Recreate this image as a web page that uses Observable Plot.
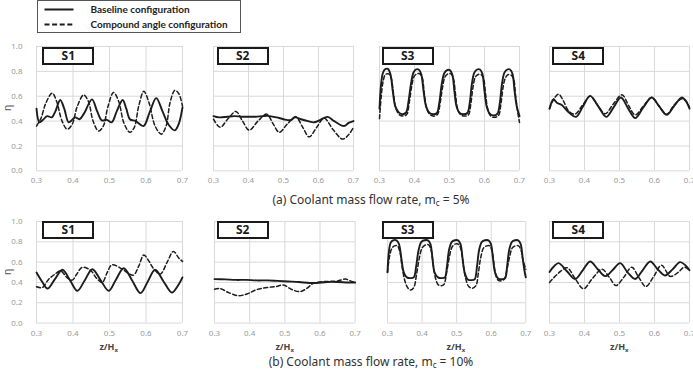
<!DOCTYPE html>
<html>
<head>
<meta charset="utf-8">
<script src="https://cdn.jsdelivr.net/npm/d3@7"></script>
<script src="https://cdn.jsdelivr.net/npm/@observablehq/plot@0.6"></script>
<style>
  html, body { margin: 0; padding: 0; background: #fff; }
  #root { position: relative; width: 693px; height: 373px; overflow: hidden; font-family: "Noto Sans", "Open Sans", sans-serif; }
  .tag { position: absolute; width: 48px; height: 14px; border: 2px solid #1a1a1a; background: #fff;
         font: bold 12px "Noto Sans", sans-serif; line-height: 14px; text-align: center; color: #1a1a1a; }
  .cap { position: absolute; width: 320px; text-align: center; font: 12px "Noto Sans", sans-serif; line-height: 14px; color: #333; white-space: nowrap; }
  .cap sub { font-size: 8px; line-height: 0; vertical-align: -2px; }
  .xl { position: absolute; width: 60px; text-align: center; font: bold 9px "Noto Sans", sans-serif; line-height: 11px; color: #444; }
  .xl sub { font-size: 6px; line-height: 0; vertical-align: -2px; }
  .eta { position: absolute; font: 11px "Noto Sans", sans-serif; color: #555; transform: rotate(-90deg); line-height: 12px; }
  .legt { position: absolute; left: 53px; font: bold 10px Lato, "Noto Sans", sans-serif; color: #222; line-height: 14px; white-space: nowrap; }
</style>
</head>
<body>
<div id="root"></div>
<script>
// ---------- tick values ----------
const xTicks = [0.3, 0.4, 0.5, 0.6, 0.7];
const yTicks = [0, 0.2, 0.4, 0.6, 0.8, 1.0];
const panelNames = ["S1", "S2", "S3", "S4"];
const seriesNames = ["Baseline configuration", "Compound angle configuration"];
const captions = ["(a) Coolant mass flow rate, m<sub>c</sub> = 5%", "(b) Coolant mass flow rate, m<sub>c</sub> = 10%"];

// ---------- (a) m_c = 5% ----------
const a1Base = [[0.300,0.50],[0.308,0.39],[0.318,0.41],[0.329,0.44],[0.342,0.43],[0.352,0.48],[0.365,0.57],[0.376,0.50],[0.388,0.39],[0.398,0.41],[0.406,0.43],[0.418,0.415],[0.430,0.46],[0.452,0.575],[0.466,0.48],[0.479,0.405],[0.493,0.41],[0.506,0.39],[0.520,0.48],[0.536,0.57],[0.546,0.50],[0.556,0.415],[0.572,0.40],[0.593,0.36],[0.610,0.47],[0.628,0.585],[0.645,0.48],[0.662,0.37],[0.679,0.325],[0.690,0.38],[0.700,0.51]];
const a1Comp = [[0.300,0.36],[0.312,0.42],[0.325,0.54],[0.343,0.625],[0.355,0.56],[0.370,0.40],[0.384,0.335],[0.397,0.37],[0.412,0.52],[0.429,0.61],[0.442,0.56],[0.455,0.40],[0.470,0.32],[0.483,0.36],[0.496,0.52],[0.511,0.63],[0.525,0.56],[0.540,0.38],[0.556,0.31],[0.568,0.35],[0.580,0.52],[0.594,0.64],[0.608,0.55],[0.625,0.36],[0.642,0.295],[0.655,0.36],[0.666,0.55],[0.679,0.648],[0.690,0.62],[0.700,0.52]];
const a2Base = [[0.300,0.44],[0.316,0.43],[0.340,0.435],[0.360,0.44],[0.380,0.435],[0.400,0.435],[0.420,0.435],[0.440,0.44],[0.455,0.442],[0.480,0.43],[0.500,0.415],[0.520,0.407],[0.533,0.43],[0.550,0.415],[0.570,0.40],[0.587,0.39],[0.605,0.41],[0.626,0.434],[0.645,0.40],[0.673,0.36],[0.686,0.385],[0.700,0.40]];
const a2Comp = [[0.300,0.415],[0.319,0.35],[0.342,0.42],[0.364,0.477],[0.383,0.40],[0.402,0.327],[0.427,0.40],[0.452,0.456],[0.470,0.38],[0.488,0.31],[0.512,0.38],[0.535,0.434],[0.555,0.35],[0.573,0.273],[0.595,0.35],[0.616,0.424],[0.642,0.33],[0.669,0.255],[0.686,0.29],[0.700,0.35]];
const a3Base = [[0.300,0.50],[0.304,0.68],[0.309,0.78],[0.315,0.815],[0.324,0.82],[0.331,0.78],[0.338,0.64],[0.345,0.52],[0.355,0.47],[0.366,0.455],[0.376,0.47],[0.383,0.56],[0.390,0.70],[0.397,0.79],[0.404,0.815],[0.412,0.815],[0.419,0.78],[0.426,0.64],[0.433,0.52],[0.443,0.465],[0.454,0.455],[0.464,0.465],[0.471,0.55],[0.478,0.70],[0.485,0.785],[0.493,0.81],[0.501,0.81],[0.508,0.775],[0.514,0.64],[0.520,0.52],[0.529,0.465],[0.540,0.455],[0.551,0.465],[0.558,0.55],[0.564,0.70],[0.571,0.79],[0.579,0.815],[0.587,0.815],[0.594,0.78],[0.600,0.64],[0.606,0.52],[0.615,0.46],[0.626,0.445],[0.637,0.46],[0.644,0.55],[0.650,0.70],[0.657,0.79],[0.665,0.815],[0.673,0.815],[0.680,0.78],[0.686,0.64],[0.692,0.52],[0.700,0.44]];
const a3Comp = [[0.300,0.42],[0.305,0.60],[0.311,0.73],[0.317,0.775],[0.326,0.78],[0.333,0.75],[0.340,0.62],[0.347,0.50],[0.357,0.45],[0.368,0.44],[0.378,0.455],[0.385,0.55],[0.392,0.68],[0.399,0.76],[0.407,0.78],[0.415,0.78],[0.422,0.75],[0.428,0.62],[0.435,0.50],[0.445,0.45],[0.456,0.44],[0.466,0.455],[0.473,0.54],[0.480,0.67],[0.487,0.755],[0.496,0.78],[0.504,0.78],[0.511,0.745],[0.517,0.62],[0.523,0.50],[0.532,0.45],[0.543,0.44],[0.554,0.45],[0.561,0.54],[0.567,0.67],[0.574,0.755],[0.582,0.775],[0.590,0.775],[0.597,0.745],[0.603,0.62],[0.609,0.50],[0.618,0.44],[0.629,0.43],[0.640,0.445],[0.647,0.54],[0.653,0.67],[0.660,0.75],[0.668,0.775],[0.676,0.77],[0.683,0.74],[0.689,0.60],[0.695,0.47],[0.700,0.39]];
const a4Base = [[0.300,0.50],[0.311,0.575],[0.322,0.545],[0.335,0.53],[0.355,0.47],[0.376,0.434],[0.396,0.52],[0.416,0.603],[0.439,0.52],[0.462,0.434],[0.483,0.51],[0.504,0.59],[0.525,0.50],[0.545,0.424],[0.568,0.51],[0.592,0.59],[0.613,0.52],[0.635,0.45],[0.656,0.52],[0.678,0.59],[0.690,0.56],[0.700,0.50]];
const a4Comp = [[0.300,0.50],[0.313,0.58],[0.326,0.617],[0.340,0.56],[0.355,0.48],[0.373,0.456],[0.395,0.53],[0.416,0.60],[0.437,0.53],[0.459,0.459],[0.483,0.54],[0.507,0.611],[0.527,0.52],[0.545,0.45],[0.568,0.52],[0.592,0.59],[0.613,0.52],[0.635,0.455],[0.656,0.53],[0.678,0.58],[0.690,0.56],[0.700,0.51]];

// ---------- (b) m_c = 10% ----------
const b1Base = [[0.300,0.498],[0.315,0.41],[0.330,0.34],[0.350,0.43],[0.371,0.525],[0.392,0.42],[0.412,0.318],[0.432,0.42],[0.453,0.53],[0.476,0.42],[0.498,0.318],[0.518,0.43],[0.539,0.54],[0.562,0.42],[0.585,0.295],[0.605,0.41],[0.625,0.525],[0.648,0.41],[0.671,0.30],[0.686,0.36],[0.700,0.45]];
const b1Comp = [[0.300,0.357],[0.316,0.35],[0.333,0.43],[0.350,0.48],[0.366,0.515],[0.383,0.45],[0.398,0.423],[0.410,0.48],[0.425,0.548],[0.448,0.52],[0.465,0.44],[0.480,0.40],[0.494,0.50],[0.507,0.574],[0.535,0.53],[0.552,0.49],[0.566,0.472],[0.580,0.56],[0.594,0.67],[0.608,0.61],[0.621,0.535],[0.639,0.482],[0.658,0.60],[0.675,0.705],[0.690,0.64],[0.700,0.607]];
const b2Base = [[0.300,0.433],[0.330,0.43],[0.360,0.425],[0.390,0.425],[0.420,0.42],[0.450,0.42],[0.480,0.415],[0.510,0.41],[0.540,0.405],[0.570,0.395],[0.590,0.395],[0.620,0.405],[0.650,0.405],[0.680,0.40],[0.700,0.40]];
const b2Comp = [[0.300,0.334],[0.316,0.34],[0.340,0.30],[0.368,0.27],[0.395,0.29],[0.420,0.33],[0.449,0.35],[0.475,0.36],[0.496,0.374],[0.520,0.33],[0.543,0.31],[0.562,0.34],[0.580,0.39],[0.600,0.405],[0.625,0.41],[0.650,0.415],[0.672,0.433],[0.690,0.41],[0.700,0.40]];
const b3Base = [[0.300,0.50],[0.304,0.70],[0.309,0.79],[0.316,0.815],[0.326,0.815],[0.333,0.78],[0.340,0.64],[0.347,0.50],[0.356,0.45],[0.366,0.443],[0.376,0.45],[0.383,0.56],[0.390,0.72],[0.398,0.80],[0.407,0.815],[0.417,0.815],[0.424,0.78],[0.430,0.64],[0.436,0.50],[0.446,0.45],[0.456,0.443],[0.466,0.45],[0.472,0.56],[0.478,0.72],[0.486,0.80],[0.495,0.815],[0.504,0.815],[0.511,0.78],[0.517,0.64],[0.523,0.50],[0.532,0.43],[0.542,0.423],[0.552,0.43],[0.559,0.56],[0.565,0.72],[0.573,0.80],[0.582,0.815],[0.592,0.815],[0.599,0.78],[0.605,0.64],[0.611,0.50],[0.620,0.44],[0.630,0.433],[0.640,0.44],[0.646,0.56],[0.652,0.72],[0.660,0.80],[0.669,0.815],[0.678,0.815],[0.685,0.78],[0.691,0.64],[0.696,0.52],[0.700,0.45]];
const b3Comp = [[0.300,0.50],[0.305,0.64],[0.312,0.73],[0.320,0.76],[0.329,0.76],[0.336,0.70],[0.342,0.56],[0.350,0.42],[0.358,0.35],[0.367,0.325],[0.376,0.35],[0.384,0.48],[0.392,0.64],[0.400,0.74],[0.410,0.77],[0.419,0.77],[0.426,0.72],[0.432,0.58],[0.439,0.44],[0.446,0.38],[0.454,0.367],[0.463,0.38],[0.471,0.50],[0.479,0.65],[0.487,0.75],[0.497,0.78],[0.506,0.775],[0.513,0.72],[0.519,0.58],[0.526,0.44],[0.535,0.36],[0.546,0.344],[0.556,0.37],[0.563,0.50],[0.570,0.65],[0.578,0.74],[0.587,0.76],[0.596,0.76],[0.603,0.70],[0.608,0.58],[0.614,0.46],[0.621,0.42],[0.628,0.416],[0.637,0.43],[0.645,0.52],[0.653,0.65],[0.661,0.74],[0.670,0.76],[0.679,0.76],[0.686,0.72],[0.692,0.62],[0.700,0.53]];
const b4Base = [[0.300,0.503],[0.313,0.56],[0.326,0.59],[0.350,0.51],[0.373,0.434],[0.395,0.52],[0.416,0.607],[0.438,0.53],[0.459,0.462],[0.480,0.52],[0.502,0.59],[0.523,0.50],[0.545,0.434],[0.566,0.52],[0.588,0.607],[0.609,0.53],[0.630,0.469],[0.652,0.53],[0.673,0.60],[0.688,0.57],[0.700,0.52]];
const b4Comp = [[0.300,0.40],[0.325,0.49],[0.350,0.545],[0.373,0.44],[0.397,0.338],[0.423,0.44],[0.450,0.53],[0.471,0.45],[0.490,0.37],[0.512,0.45],[0.535,0.55],[0.555,0.45],[0.575,0.36],[0.598,0.46],[0.620,0.57],[0.645,0.46],[0.668,0.50],[0.685,0.55],[0.700,0.52]];

const rows = [
  {base: [a1Base, a2Base, a3Base, a4Base], comp: [a1Comp, a2Comp, a3Comp, a4Comp]},
  {base: [b1Base, b2Base, b3Base, b4Base], comp: [b1Comp, b2Comp, b3Comp, b4Comp]}
];

// ---------- layout (pixels) ----------
const rowBox = [{top: 45.7, bottom: 170}, {top: 220.7, bottom: 322.3}];
const colBox = [
  [[35.7, 181.7], [212.7, 352.7], [379.3, 519.3], [549.3, 689.3]],
  [[35.7, 181.7], [214.3, 355.0], [386.7, 525.0], [549.3, 689.3]]
];
const tagLeft = [42.3, 216.7, 381.7, 552.3];
const tagTop = [46.5, 221];

const root = document.getElementById("root");
const INK = "#1c1c1c";
const GRID = "#d9d9d9";

function panel(base, comp, x0, x1, y0, y1, showY) {
  const mL = 30, mR = 6, mT = 4, mB = 20;
  const w = x1 - x0, h = y1 - y0;
  const svg = Plot.plot({
    width: w + mL + mR, height: h + mT + mB,
    marginLeft: mL, marginRight: mR, marginTop: mT, marginBottom: mB,
    style: {fontFamily: "'Noto Sans', sans-serif", fontSize: "8px", color: "#9a9a9a", background: "transparent", overflow: "visible"},
    x: {domain: [0.3, 0.7], ticks: xTicks, tickFormat: d3.format(".1f"), tickSize: 0, tickPadding: 7, label: null},
    y: {domain: [0, 1], ticks: yTicks, tickFormat: d3.format(".1f"), tickSize: 0, tickPadding: 14, label: null, axis: showY ? "left" : null},
    marks: [
      Plot.ruleX(xTicks, {stroke: GRID, strokeWidth: 1}),
      Plot.ruleY(yTicks, {stroke: GRID, strokeWidth: 1}),
      Plot.line(comp, {stroke: INK, strokeWidth: 1.5, strokeDasharray: "4,2.5", curve: "catmull-rom"}),
      Plot.line(base, {stroke: INK, strokeWidth: 1.9, curve: "catmull-rom"})
    ]
  });
  svg.style.position = "absolute";
  svg.style.left = (x0 - mL) + "px";
  svg.style.top = (y0 - mT) + "px";
  root.appendChild(svg);
}

rows.forEach((r, ri) => {
  for (let c = 0; c < 4; c++) {
    const [x0, x1] = colBox[ri][c];
    panel(r.base[c], r.comp[c], x0, x1, rowBox[ri].top, rowBox[ri].bottom, c === 0);
    const tag = document.createElement("div");
    tag.className = "tag";
    tag.style.left = tagLeft[c] + "px";
    tag.style.top = tagTop[ri] + "px";
    tag.textContent = panelNames[c];
    root.appendChild(tag);
  }
  const eta = document.createElement("div");
  eta.className = "eta";
  eta.textContent = "η";
  eta.style.left = "4px";
  eta.style.top = ((rowBox[ri].top + rowBox[ri].bottom) / 2 - 6) + "px";
  root.appendChild(eta);
  const cap = document.createElement("div");
  cap.className = "cap";
  cap.innerHTML = captions[ri];
  cap.style.left = (371 - 160) + "px";
  cap.style.top = (ri === 0 ? 193 : 355) + "px";
  root.appendChild(cap);
});

colBox[1].forEach(([x0, x1]) => {
  const xl = document.createElement("div");
  xl.className = "xl";
  xl.innerHTML = "z/H<sub>x</sub>";
  xl.style.left = ((x0 + x1) / 2 - 30) + "px";
  xl.style.top = "341px";
  root.appendChild(xl);
});

const leg = document.createElement("div");
leg.style.cssText = "position:absolute;left:36.5px;top:0px;width:202px;height:31px;border:1px solid #555;background:#fff;";
leg.innerHTML = `
<svg width="40" height="31" style="position:absolute;left:5px;top:0">
  <line x1="1.5" x2="30.5" y1="8.5" y2="8.5" stroke="${INK}" stroke-width="2"/>
  <line x1="1.5" x2="30.5" y1="23.5" y2="23.5" stroke="${INK}" stroke-width="2" stroke-dasharray="5,2.6"/>
</svg>
<div class="legt" style="top:1px">${seriesNames[0]}</div>
<div class="legt" style="top:16px">${seriesNames[1]}</div>`;
root.appendChild(leg);
</script>
</body>
</html>
